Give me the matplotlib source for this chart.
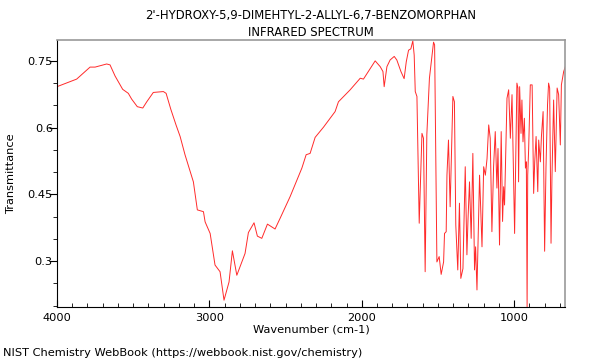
import matplotlib
matplotlib.use("Agg")
import matplotlib.pyplot as plt
from matplotlib.ticker import MultipleLocator

# IR spectrum (wavenumber in cm-1, transmittance)
wavenumber = [
    4000, 3871, 3783, 3750, 3674, 3652, 3619, 3569, 3532, 3510, 3473, 3437,
    3411, 3368, 3302, 3284, 3253, 3219, 3192, 3160, 3105, 3079, 3039, 3028,
    2995, 2963, 2930, 2904, 2871, 2849, 2820, 2766, 2744, 2707, 2685, 2656,
    2619, 2569, 2536, 2470, 2393, 2365, 2339, 2306, 2251, 2175, 2153, 2076,
    2010, 1989, 1912, 1879, 1861, 1853, 1835, 1814, 1787, 1770, 1743, 1722,
    1708, 1693, 1678, 1665, 1656, 1649, 1638, 1623, 1605, 1595, 1584, 1573,
    1556, 1529, 1522, 1507, 1492, 1479, 1463, 1457, 1446, 1441, 1431, 1420,
    1402, 1392, 1383, 1370, 1359, 1350, 1336, 1321, 1310, 1303, 1293, 1282,
    1271, 1260, 1253, 1244, 1227, 1211, 1200, 1189, 1178, 1167, 1157, 1146,
    1135, 1124, 1113, 1106, 1096, 1085, 1076, 1069, 1063, 1047, 1036, 1025,
    1014, 997, 982, 975, 971, 964, 955, 949, 942, 933, 926, 920,
    915, 911, 905, 894, 882, 872, 865, 856, 845, 839, 828, 821,
    810, 800, 791, 781, 774, 767, 758, 752, 741, 730, 718, 708,
    697, 690, 675, 664,
]
transmittance = [
    0.692, 0.709, 0.736, 0.736, 0.743, 0.741, 0.716, 0.686, 0.677, 0.664, 0.647, 0.644,
    0.658, 0.679, 0.681, 0.677, 0.641, 0.606, 0.580, 0.539, 0.478, 0.415, 0.411, 0.388,
    0.362, 0.291, 0.276, 0.212, 0.253, 0.323, 0.268, 0.317, 0.364, 0.386, 0.356, 0.351,
    0.383, 0.372, 0.396, 0.445, 0.509, 0.539, 0.542, 0.578, 0.601, 0.636, 0.658, 0.685,
    0.711, 0.709, 0.750, 0.737, 0.726, 0.692, 0.737, 0.752, 0.760, 0.752, 0.726, 0.710,
    0.748, 0.774, 0.777, 0.795, 0.763, 0.681, 0.670, 0.385, 0.587, 0.576, 0.276, 0.584,
    0.711, 0.792, 0.786, 0.298, 0.310, 0.270, 0.298, 0.362, 0.366, 0.493, 0.572, 0.422,
    0.670, 0.658, 0.381, 0.280, 0.430, 0.261, 0.283, 0.512, 0.314, 0.392, 0.478, 0.351,
    0.542, 0.280, 0.332, 0.235, 0.493, 0.332, 0.512, 0.493, 0.530, 0.606, 0.576, 0.366,
    0.512, 0.591, 0.464, 0.553, 0.336, 0.591, 0.389, 0.467, 0.426, 0.666, 0.685, 0.576,
    0.674, 0.362, 0.700, 0.689, 0.478, 0.692, 0.587, 0.662, 0.568, 0.621, 0.509, 0.523,
    0.197, 0.493, 0.550, 0.696, 0.696, 0.452, 0.523, 0.580, 0.456, 0.572, 0.523, 0.580,
    0.636, 0.322, 0.512, 0.651, 0.700, 0.689, 0.340, 0.486, 0.662, 0.501, 0.689, 0.674,
    0.561, 0.696, 0.726, 0.737,
]

fig = plt.figure(figsize=(6, 3.6), dpi=100)
ax = fig.add_axes([0.095, 0.147, 0.847, 0.742])
ax.plot(wavenumber, transmittance, color="#ff2a2a", linewidth=0.7)

ax.set_xlim(4000, 665)
ax.set_ylim(0.1965, 0.797)
ax.xaxis.set_minor_locator(MultipleLocator(100))
ax.yaxis.set_minor_locator(MultipleLocator(0.05))
ax.set_xticks([4000, 3000, 2000, 1000])
ax.set_xticklabels(["4000", "3000", "2000", "1000"])
ax.set_yticks([0.3, 0.45, 0.6, 0.75])
ax.set_yticklabels(["0.3", "0.45", "0.6", "0.75"])

ax.tick_params(axis="x", which="major", direction="in", length=5, labelsize=8.2, pad=4)
ax.tick_params(axis="x", which="minor", direction="in", length=3)
ax.tick_params(axis="y", which="major", direction="out", length=6, labelsize=8.2, pad=-3)
ax.tick_params(axis="y", which="minor", direction="out", length=3)

for side in ("top", "right"):
    ax.spines[side].set_color("#999999")
    ax.spines[side].set_linewidth(1.2)
for side in ("left", "bottom"):
    ax.spines[side].set_color("black")
    ax.spines[side].set_linewidth(0.8)

ax.set_xlabel("Wavenumber (cm-1)", fontsize=8.2, labelpad=1)
fig.text(0.018, 0.517, "Transmittance", fontsize=8.2, rotation=90,
         ha="center", va="center")
ax.set_title("2'-HYDROXY-5,9-DIMEHTYL-2-ALLYL-6,7-BENZOMORPHAN\nINFRARED SPECTRUM",
             fontsize=8.4, pad=3, linespacing=1.4)
fig.text(0.005, 0.012, "NIST Chemistry WebBook (https://webbook.nist.gov/chemistry)",
         fontsize=8.2)

fig.savefig("out.png", dpi=100)
